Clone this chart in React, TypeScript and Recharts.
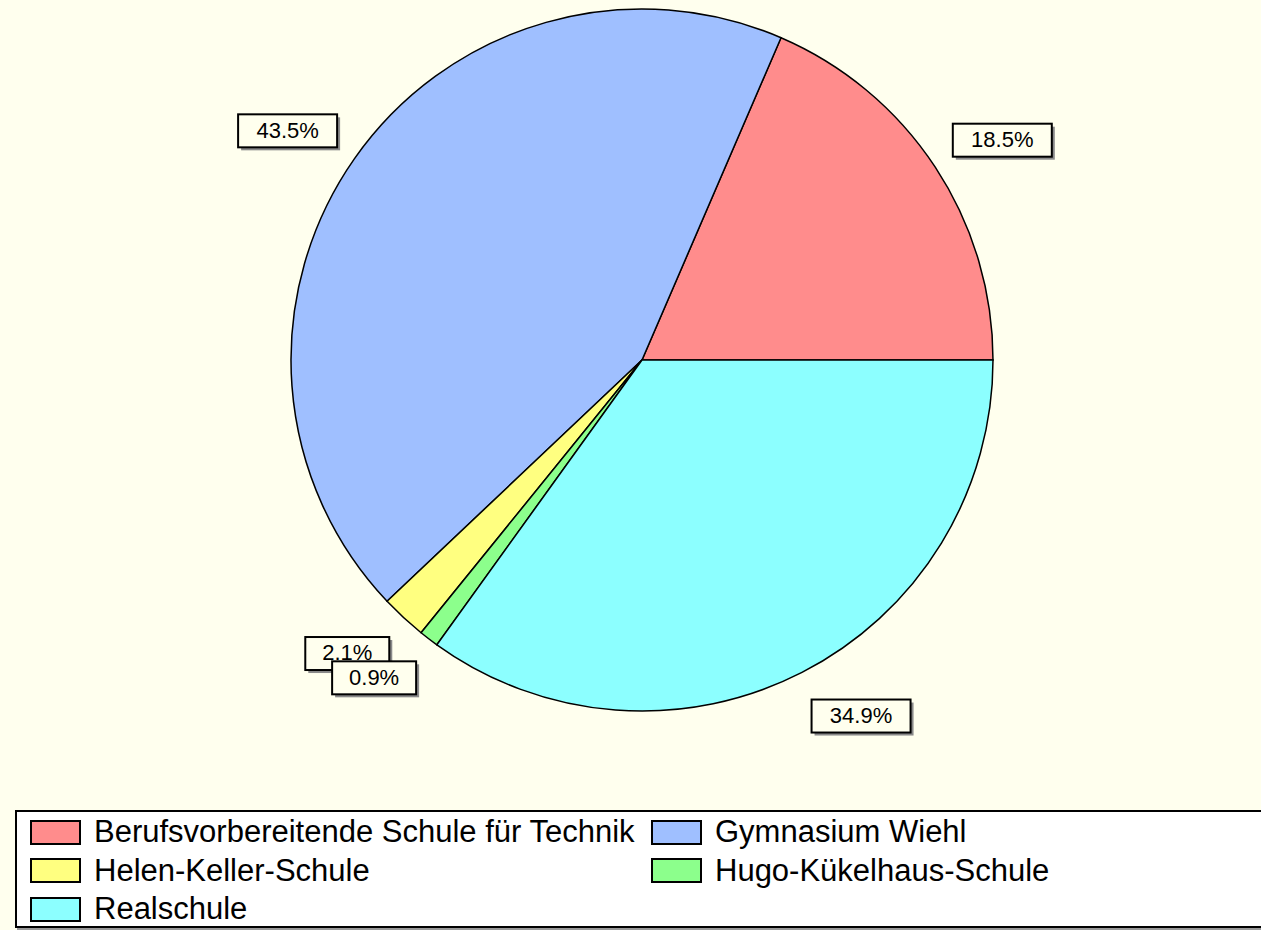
import { PieChart, Pie, Cell, Legend } from "recharts";

const schools = [
  "Berufsvorbereitende Schule für Technik",
  "Gymnasium Wiehl",
  "Helen-Keller-Schule",
  "Hugo-Kükelhaus-Schule",
  "Realschule",
];
const shares = [18.5, 43.5, 2.1, 0.9, 34.9];
const colors = ["#ff8c8c", "#9fbfff", "#ffff80", "#8cff8c", "#8cffff"];

const data = schools.map((name, i) => ({ name, value: shares[i] }));

const RADIAN = Math.PI / 180;
const FONT = "'Liberation Sans', Arial, sans-serif";

// box edge nearest the pie sits at r+21 horizontally, box centre at r+49 vertically
const renderLabel = (props: any) => {
  const { cx, cy, midAngle, outerRadius, value } = props;
  const cos = Math.cos(-midAngle * RADIAN);
  const sin = Math.sin(-midAngle * RADIAN);
  const text = `${value.toFixed(1)}%`;
  const w = text.length * 15 + 24;
  const h = 33;
  const edgeX = cx + (outerRadius + 21) * cos;
  const left = cos >= 0 ? edgeX : edgeX - w;
  const x = left + w / 2;
  const y = cy + (outerRadius + 49) * sin;
  return (
    <g>
      <rect x={left + 3} y={y - h / 2 + 3} width={w} height={h} fill="#8a8a8a" />
      <rect x={left} y={y - h / 2} width={w} height={h} fill="#ffffee" stroke="#000" strokeWidth={2} />
      <text x={x} y={y + 1} textAnchor="middle" dominantBaseline="middle" fontFamily={FONT} fontSize={22} fill="#000">
        {text}
      </text>
    </g>
  );
};

const LegendBox = () => (
  <div
    style={{
      position: "relative",
      width: 1260,
      height: 114,
      background: "#fff",
      border: "2px solid #000",
      boxShadow: "2px 2px 0 #999",
      fontFamily: FONT,
      fontSize: 31,
      color: "#000",
    }}
  >
    {schools.map((name, i) => (
      <div
        key={name}
        style={{
          position: "absolute",
          left: i % 2 === 0 ? 13 : 634,
          top: 3 + Math.floor(i / 2) * 38.5,
          display: "flex",
          alignItems: "center",
          height: 34,
          whiteSpace: "nowrap",
        }}
      >
        <span
          style={{
            display: "inline-block",
            width: 47,
            height: 21,
            background: colors[i],
            border: "2px solid #000",
            marginRight: 13,
          }}
        />
        <span>{name}</span>
      </div>
    ))}
  </div>
);

export default function App() {
  return (
    <div style={{ position: "absolute", left: 0, top: 0, width: 1261, height: 930, background: "#ffffee", overflow: "hidden" }}>
      <PieChart width={1261} height={930} margin={{ top: 0, right: 0, bottom: 0, left: 0 }}>
        <Pie
          data={data}
          dataKey="value"
          nameKey="name"
          cx={642}
          cy={360}
          outerRadius={351}
          startAngle={0}
          endAngle={360}
          stroke="#000"
          strokeWidth={1.5}
          label={renderLabel}
          labelLine={false}
          isAnimationActive={false}
        >
          {data.map((d, i) => (
            <Cell key={d.name} fill={colors[i]} />
          ))}
        </Pie>
        <Legend
          content={() => <LegendBox />}
          wrapperStyle={{ position: "absolute", left: 15, top: 810, width: 1264, height: 118 }}
        />
      </PieChart>
    </div>
  );
}
